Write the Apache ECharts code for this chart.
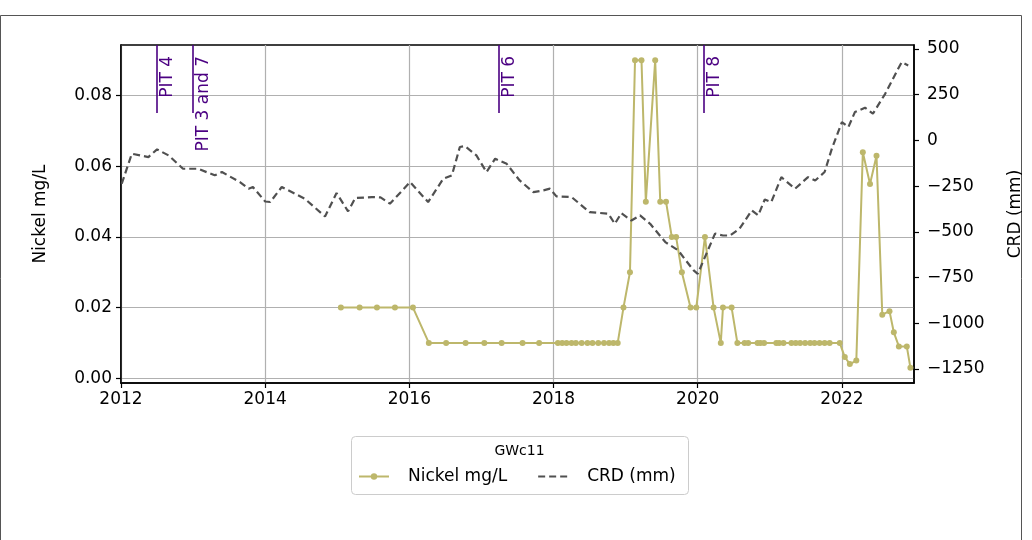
<!DOCTYPE html>
<html>
<head>
<meta charset="utf-8">
<script src="https://cdn.jsdelivr.net/npm/echarts@6/dist/echarts.min.js"></script>
<style>
  html, body { margin: 0; padding: 0; background: #fff; }
  #chart { width: 1032px; height: 540px; }
</style>
</head>
<body>
<div id="chart"></div>
<script>
// sample dates as decimal years
const nickelDates = [
  2015.05, 2015.31, 2015.55, 2015.80, 2016.05,
  2016.27, 2016.51, 2016.78, 2017.04, 2017.28, 2017.57, 2017.80,
  2018.06, 2018.12, 2018.18, 2018.25, 2018.31, 2018.39, 2018.47, 2018.54, 2018.62, 2018.70, 2018.77, 2018.83, 2018.89,
  2018.97, 2019.06, 2019.13, 2019.22, 2019.28, 2019.41, 2019.48, 2019.56, 2019.64, 2019.70, 2019.78, 2019.90, 2019.98,
  2020.10, 2020.22, 2020.32, 2020.35, 2020.47,
  2020.55, 2020.65, 2020.70, 2020.83, 2020.87, 2020.92, 2021.09, 2021.13, 2021.19, 2021.30,
  2021.36, 2021.42, 2021.49, 2021.56, 2021.62, 2021.69, 2021.76, 2021.83, 2021.97,
  2022.04, 2022.11, 2022.20, 2022.29, 2022.39, 2022.48, 2022.56, 2022.66, 2022.72, 2022.79, 2022.90, 2022.95
];
const nickelValues = [
  0.02, 0.02, 0.02, 0.02, 0.02,
  0.01, 0.01, 0.01, 0.01, 0.01, 0.01, 0.01,
  0.01, 0.01, 0.01, 0.01, 0.01, 0.01, 0.01, 0.01, 0.01, 0.01, 0.01, 0.01, 0.01,
  0.02, 0.03, 0.09, 0.09, 0.05, 0.09, 0.05, 0.05, 0.04, 0.04, 0.03, 0.02, 0.02,
  0.04, 0.02, 0.01, 0.02, 0.02,
  0.01, 0.01, 0.01, 0.01, 0.01, 0.01, 0.01, 0.01, 0.01, 0.01,
  0.01, 0.01, 0.01, 0.01, 0.01, 0.01, 0.01, 0.01, 0.01,
  0.006, 0.004, 0.005, 0.064, 0.055, 0.063, 0.018, 0.019, 0.013, 0.009, 0.009, 0.003
];

const crdDates = [
  2012.01, 2012.15, 2012.38, 2012.50, 2012.66, 2012.86, 2013.07, 2013.30, 2013.40, 2013.65,
  2013.77, 2013.83, 2014.00, 2014.07, 2014.23, 2014.55, 2014.83, 2014.99, 2015.15, 2015.25,
  2015.48, 2015.60, 2015.73, 2016.01, 2016.26, 2016.47, 2016.59, 2016.70, 2016.77, 2016.93,
  2017.07, 2017.19, 2017.35, 2017.53, 2017.72, 2017.86, 2017.95, 2018.04, 2018.25, 2018.50,
  2018.76, 2018.85, 2018.94, 2019.08, 2019.20, 2019.34, 2019.55, 2019.73, 2019.94, 2020.00,
  2020.24, 2020.35, 2020.45, 2020.58, 2020.75, 2020.84, 2020.93, 2021.02, 2021.16, 2021.35,
  2021.53, 2021.63, 2021.76, 2021.86, 2022.00, 2022.09, 2022.18, 2022.32, 2022.43, 2022.60,
  2022.78, 2022.83, 2022.92
];
const crdValues = [
  -237, -73, -91, -49, -82, -155, -155, -191, -173, -228,
  -264, -255, -334, -337, -255, -319, -416, -288, -388, -315,
  -310, -312, -346, -228, -337, -210, -191, -36, -31, -82,
  -173, -100, -128, -219, -283, -273, -264, -306, -310, -392,
  -401, -456, -398, -438, -410, -456, -556, -602, -710, -730,
  -510, -520, -520, -483, -383, -410, -323, -337, -201, -264,
  -201, -219, -173, -46, 100, 73, 155, 179, 146, 255,
  392, 428, 410
];

const pitDates = [2012.5, 2013.0, 2017.24, 2020.09];
const pitLabels = ['PIT 4', 'PIT 3 and 7', 'PIT 6', 'PIT 8'];

const yearTicks = [2012, 2014, 2016, 2018, 2020, 2022];
const nickelTicks = [0, 0.02, 0.04, 0.06, 0.08];
const crdTicks = [-1250, -1000, -750, -500, -250, 0, 250, 500];

const FONT = 'DejaVu Sans';
const FS = 17;
const PIT_COLOR = '#4b0082';
const nickelMin = -0.00135, nickelMax = 0.09435;
const pitBottom = 0.0751;

const chart = echarts.init(document.getElementById('chart'));

function minus(v) {
  return v < 0 ? '\u2212' + Math.abs(v) : String(v);
}

const tickLine = { color: '#000', width: 1.2 };

chart.setOption({
  animation: false,
  grid: {
    left: 121, right: 116, top: 45, bottom: 157,
    show: true, borderColor: '#000', borderWidth: 1.5
  },
  legend: {
    left: 358, top: 468, padding: 0,
    itemWidth: 30, itemHeight: 8, itemGap: 30,
    textStyle: { fontFamily: FONT, fontSize: 17, color: '#000', padding: [0, 0, 0, 14] },
    data: [
      { name: 'Nickel mg/L' },
      { name: 'CRD (mm)', itemStyle: { opacity: 0 } }
    ]
  },
  xAxis: {
    type: 'value', min: 2012, max: 2023,
    axisLine: { show: true, onZero: false, lineStyle: { color: '#000', width: 1.5 } },
    axisTick: { show: true, length: 5, lineStyle: tickLine, customValues: yearTicks },
    axisLabel: { customValues: yearTicks, color: '#000', fontFamily: FONT, fontSize: FS, margin: 8,
                 formatter: v => String(v) },
    splitLine: { show: true, lineStyle: { color: '#b0b0b0', width: 1.2 } }
  },
  yAxis: [
    {
      type: 'value', position: 'left', min: nickelMin, max: nickelMax,
      name: 'Nickel mg/L', nameLocation: 'middle', nameRotate: 90, nameGap: 72,
      nameTextStyle: { fontFamily: FONT, fontSize: FS, color: '#000' },
      axisLine: { show: true, onZero: false, lineStyle: { color: '#000', width: 1.5 } },
      axisTick: { show: true, length: 5, lineStyle: tickLine, customValues: nickelTicks },
      axisLabel: { customValues: nickelTicks, color: '#000', fontFamily: FONT, fontSize: FS, margin: 9,
                   formatter: v => v.toFixed(2) },
      splitLine: { show: true, lineStyle: { color: '#b0b0b0', width: 1.2 } }
    },
    {
      type: 'value', position: 'right', min: -1327, max: 522,
      name: 'CRD (mm)', nameLocation: 'middle', nameRotate: 90, nameGap: 93,
      nameTextStyle: { fontFamily: FONT, fontSize: FS, color: '#000' },
      axisLine: { show: true, onZero: false, lineStyle: { color: '#000', width: 1.5 } },
      axisTick: { show: true, length: 5, lineStyle: tickLine, customValues: crdTicks },
      axisLabel: { customValues: crdTicks, color: '#000', fontFamily: FONT, fontSize: FS, margin: 13,
                   formatter: minus },
      splitLine: { show: false }
    }
  ],
  series: [
    {
      name: 'Nickel mg/L', type: 'line', yAxisIndex: 0, z: 3,
      data: nickelDates.map((d, i) => [d, nickelValues[i]]),
      color: '#bdb76b',
      symbol: 'circle', symbolSize: 6, showSymbol: true,
      lineStyle: { color: '#bdb76b', width: 2 },
      itemStyle: { color: '#bdb76b' },
      markLine: {
        silent: true, symbol: ['none', 'none'], label: { show: false },
        lineStyle: { color: PIT_COLOR, width: 1.6, type: 'solid' },
        data: pitDates.map(d => [{ coord: [d, pitBottom] }, { coord: [d, nickelMax] }])
      }
    },
    {
      name: 'CRD (mm)', type: 'line', yAxisIndex: 1, z: 4,
      data: crdDates.map((d, i) => [d, crdValues[i]]),
      color: '#555',
      symbol: 'none',
      lineStyle: { color: '#505050', width: 2.2, type: [7, 4] }
    }
  ]
});

// frame, legend box and PIT labels
const graphics = [
  { type: 'rect', z: -1, silent: true,
    shape: { x: 0.5, y: 15.5, width: 1021, height: 560 },
    style: { fill: 'none', stroke: '#555', lineWidth: 1 } },
  { type: 'rect', z: 0, silent: true,
    shape: { x: 351.5, y: 436.5, width: 337, height: 58, r: 4 },
    style: { fill: '#fff', stroke: '#cccccc', lineWidth: 1 } },
  { type: 'text', z: 1, silent: true, x: 519.5, y: 451,
    style: { text: 'GWc11', fill: '#000', font: '14px "DejaVu Sans"', align: 'center', verticalAlign: 'middle' } }
];
pitDates.forEach((d, i) => {
  const p = chart.convertToPixel({ seriesIndex: 0 }, [d, nickelMax]);
  graphics.push({
    type: 'text', z: 5, silent: true, x: p[0] + 2, y: p[1] + 11, rotation: Math.PI / 2,
    style: { text: pitLabels[i], fill: PIT_COLOR, font: '17px "DejaVu Sans"', align: 'right', verticalAlign: 'top' }
  });
});
chart.setOption({ graphic: graphics });
</script>
</body>
</html>
